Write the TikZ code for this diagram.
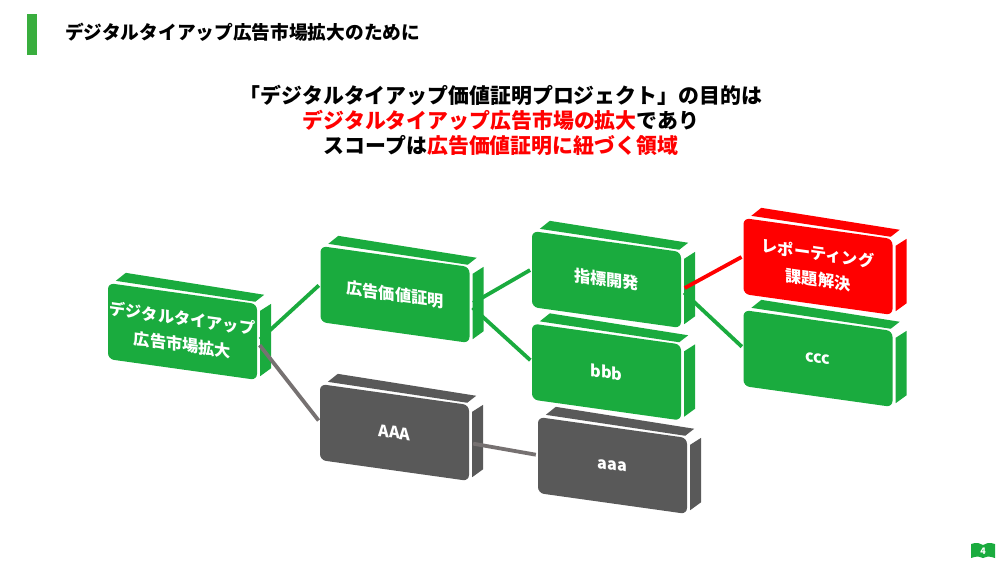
\documentclass[tikz,border=0pt]{standalone}
\usepackage{fontspec}
\setmainfont{Noto Sans CJK JP}
\usetikzlibrary{calc,positioning}
\definecolor{leaf}{HTML}{1AAB3E}
\definecolor{bar}{HTML}{39AE3E}
\definecolor{slate}{HTML}{595959}
\definecolor{wiregray}{HTML}{767171}
\newcommand{\hot}[1]{\textcolor{red}{#1}}
% front face, then the top and the side of the block
\newcommand{\slab}[5]{
   \node[slab, fill=#4] (#1) at (#2,#3) {#5};
   \fill[#4] ($(#1.north west)+(8,-2)$) -- ($(#1.north west)+(18,-10)$)
      -- ($(#1.north east)+(7,-9)$) -- ($(#1.north east)+(-2,-2)$) -- cycle;
   \fill[#4] ($(#1.north east)+(3,7)$) -- ($(#1.north east)+(14,0)$)
      -- ($(#1.south east)+(14,-12)$) -- ($(#1.south east)+(3,-4)$) -- cycle;
}

\begin{document}
\begin{tikzpicture}[x=1pt, y=-1pt, shorten >=2pt, shorten <=4pt,
   slab/.style={rectangle, rounded corners=6pt, inner sep=0pt, align=center,
      minimum width=149pt, minimum height=76pt, yslant=-0.14, transform shape,
      text=white, font=\bfseries\fontsize{16.2}{26}\selectfont},
   wire/.style={line width=3.8pt},
   lead/.style={inner sep=0pt, align=center, font=\bfseries\fontsize{20.9}{25}\selectfont}]
   \useasboundingbox (0,0) rectangle (1000,563);

   \node[fill=bar, minimum width=10pt, minimum height=41pt, inner sep=0pt] (mark) at (32,34.5) {};
   \node[inner sep=0pt, font=\bfseries\fontsize{18.7}{22}\selectfont, anchor=west] (title) at (65,32)
      {デジタルタイアップ広告市場拡大のために};
   \node[lead] (goal) at (501,120)
      {「デジタルタイアップ価値証明プロジェクト」の目的は\\
       \hot{デジタルタイアップ広告市場の拡大}であり\\
       スコープは\hot{広告価値証明に紐づく領域}};

   \slab{market}{182.5}{331.5}{leaf}{デジタルタイアップ\\広告市場拡大}
   \slab{proof}{395}{294.5}{leaf}{広告価値証明}
   \slab{AAA}{394.5}{432.5}{slate}{AAA}
   \slab{aaa}{612.5}{465.5}{slate}{aaa}
   \slab{index}{606.5}{279.5}{leaf}{指標開発}
   \slab{bbb}{606.5}{372}{leaf}{bbb}
   \slab{report}{818}{266.5}{red}{レポーティング\\課題解決}
   \slab{ccc}{818}{358.5}{leaf}{ccc}

   \path[wire, leaf]
    (market.east) edge (proof.west)
    (proof.east)  edge (index.west)
                  edge (bbb.west)
    (index.east)  edge (ccc.west);
   \path[wire, red]
    (index.east)  edge (report.west);
   \path[wire, wiregray]
    (market.east) edge (AAA.west)
    (AAA.east)    edge (aaa.west);

   % page tag
   \fill[leaf] (971,544) .. controls (977,542) and (980,543) .. (983,545)
      .. controls (986,543) and (989,542) .. (995,544) -- (995,558)
      .. controls (989,556) and (986,556) .. (983,558)
      .. controls (980,556) and (977,556) .. (971,558) -- cycle;
   \node[inner sep=0pt, text=white, font=\bfseries\fontsize{9}{10}\selectfont] (page) at (983,551) {4};
\end{tikzpicture}
\end{document}
